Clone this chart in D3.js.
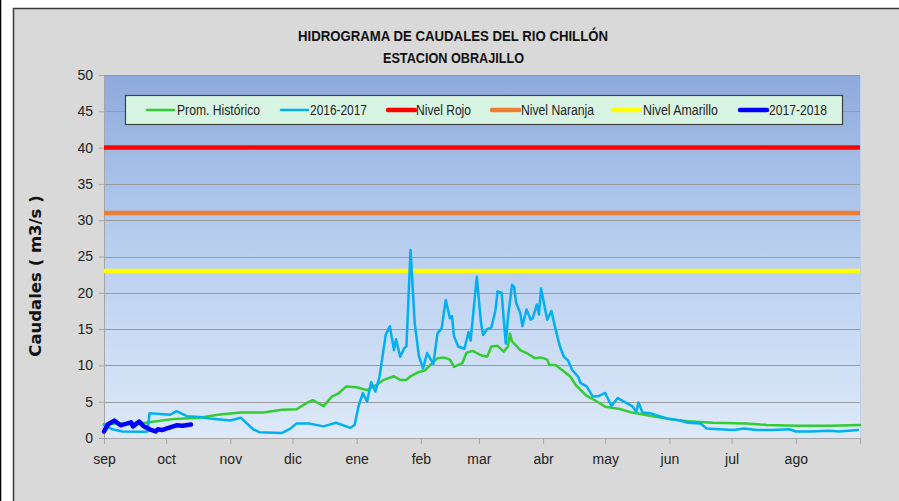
<!DOCTYPE html>
<html><head><meta charset="utf-8">
<script src="https://cdn.jsdelivr.net/npm/d3@7"></script>
<style>
html,body{margin:0;padding:0;background:#fff;}
svg{display:block;}
text{font-family:"Liberation Sans",Arial,sans-serif;}
</style></head>
<body><svg id="c" width="899" height="501"></svg>
<script>
// ---- data ----
const monthLabels = ["sep","oct","nov","dic","ene","feb","mar","abr","may","jun","jul","ago"];
const monthStartDays = [0,30,61,91,122,153,181,212,242,273,303,334,365];
const yTicks = [0,5,10,15,20,25,30,35,40,45,50];

const histDays = [0,8,20,33,46,55,66,77,86,93,96,99,101,106,110,113,117,122,127,132,135,140,143,146,148,152,155,158,161,164,167,169,173,175,178,182,185,187,190,193,195,196,197,201,204,208,211,214,215,218,221,225,228,233,237,242,249,255,265,273,282,294,310,320,335,351,365];
const histValues = [1.9,2.0,2.1,2.6,2.8,3.2,3.5,3.5,3.9,3.95,4.5,5.0,5.2,4.4,5.7,6.1,7.1,7.0,6.6,7.4,8.0,8.5,8.0,8.0,8.5,9.1,9.3,10.2,11.0,11.1,10.8,9.8,10.3,11.75,12.0,11.4,11.2,12.6,12.7,11.9,12.6,14.4,13.3,12.1,11.7,11.0,11.1,10.8,10.05,10.05,9.4,8.5,7.2,5.8,5.2,4.3,4.0,3.5,3.0,2.6,2.3,2.1,2.0,1.8,1.7,1.7,1.8];

const y1617Days = [0,4,9,19,21,22,27,32,35,40,46,51,61,66,72,75,86,90,93,99,106,112,119,121,123,125,127,129,131,133,136,138,140,141,143,145,146,148,150,152,154,156,159,161,163,165,167,168,169,171,174,176,177,180,182,183,185,187,189,190,192,193,194,195,197,198,199,201,202,204,206,207,209,210,211,214,216,218,220,222,224,226,229,230,233,236,239,242,245,248,253,255,257,258,260,264,267,272,278,282,288,291,297,304,309,315,323,331,334,341,350,355,364];
const y1617Values = [1.8,1.2,0.9,0.85,0.9,3.4,3.3,3.2,3.7,3.0,2.9,2.7,2.4,2.8,1.2,0.8,0.7,1.3,2.0,2.0,1.6,2.1,1.4,1.8,4.5,6.2,5.0,7.7,6.4,8.4,14.2,15.4,12.1,13.6,11.2,12.4,12.6,25.9,15.9,11.3,9.6,11.7,10.2,14.4,15.1,19.0,16.5,16.8,14.0,12.6,12.3,14.6,13.4,22.2,15.9,14.2,15.0,15.2,17.6,20.2,20.0,16.3,13.0,16.5,21.1,20.8,18.6,17.2,15.4,17.7,16.3,16.5,18.4,17.0,20.6,16.3,17.5,15.0,12.7,11.2,10.7,9.4,8.4,7.6,7.1,5.7,5.8,6.2,4.4,5.5,4.7,4.4,3.6,4.9,3.5,3.4,3.1,2.7,2.4,2.1,2.0,1.3,1.2,1.1,1.3,1.1,1.1,1.2,0.9,0.9,1.0,0.9,1.1];

const y1718Days = [0,2,5,8,13,14,17,19,22,25,26,28,30,35,38,42];
const y1718Values = [0.9,1.9,2.4,1.75,2.15,1.6,2.25,1.65,1.2,0.9,1.2,1.1,1.3,1.75,1.7,1.85];

const levelNames = ["Nivel Rojo","Nivel Naranja","Nivel Amarillo"];
const levelValues = [40,31,23];
const levelColors = ["#ff0000","#ed7d31","#ffff00"];

// ---- chart ----
const svg = d3.select("#c");
const W = 899, H = 501;
const m = {left:104, right:860, top:75, bottom:438};

svg.append("rect").attr("x",0).attr("y",0).attr("width",W).attr("height",H).attr("fill","#fff");
svg.append("line").attr("x1",0.5).attr("x2",0.5).attr("y1",0).attr("y2",H).attr("stroke","#000").attr("stroke-width",1.5);
svg.append("rect").attr("x",13.5).attr("y",8.5).attr("width",W).attr("height",H)
  .attr("fill","#d9d9d9").attr("stroke","#3a3a3a").attr("stroke-width",1.5);

const defs = svg.append("defs");
const grad = defs.append("linearGradient").attr("id","bg").attr("x1",0).attr("x2",0).attr("y1",0).attr("y2",1);
grad.append("stop").attr("offset","0%").attr("stop-color","#8eaadc");
grad.append("stop").attr("offset","45%").attr("stop-color","#b6cdef");
grad.append("stop").attr("offset","100%").attr("stop-color","#dde9f8");

const x = d3.scaleLinear().domain([0,365]).range([m.left,m.right]);
const y = d3.scaleLinear().domain([0,50]).range([m.bottom,m.top]);

svg.append("rect").attr("x",m.left).attr("y",m.top).attr("width",m.right-m.left).attr("height",m.bottom-m.top).attr("fill","url(#bg)");

// gridlines
svg.append("g").selectAll("line").data(yTicks.filter(d=>d>0)).join("line")
  .attr("x1",m.left).attr("x2",m.right).attr("y1",d=>Math.round(y(d))+0.5).attr("y2",d=>Math.round(y(d))+0.5)
  .attr("stroke","#9a9a9a").attr("stroke-width",1);

// y axis
const yAxis = d3.axisLeft(y).tickValues(yTicks).tickSize(5).tickPadding(6);
const gy = svg.append("g").attr("transform",`translate(${m.left},0)`).call(yAxis);
gy.select(".domain").attr("stroke","#a6a6a6");
gy.selectAll(".tick line").attr("stroke","#a6a6a6");
gy.selectAll(".tick text").attr("font-size",14).attr("fill","#222")
  .style("font-family","'Liberation Sans',Arial,sans-serif");

// x axis
const xAxis = d3.axisBottom(x).tickValues(monthStartDays).tickSize(6).tickPadding(10)
  .tickFormat((d,i)=> monthLabels[i] || "");
const gx = svg.append("g").attr("transform",`translate(0,${m.bottom})`).call(xAxis);
gx.select(".domain").attr("stroke","#a6a6a6");
gx.selectAll(".tick line").attr("stroke","#a6a6a6");
gx.selectAll(".tick text").attr("font-size",14).attr("fill","#222")
  .style("font-family","'Liberation Sans',Arial,sans-serif");

// right border of plot
svg.append("line").attr("x1",m.right+0.5).attr("x2",m.right+0.5).attr("y1",m.top).attr("y2",m.bottom).attr("stroke","#c0d0e8");

// level lines
svg.append("g").selectAll("line").data(levelValues).join("line")
  .attr("x1",m.left).attr("x2",m.right).attr("y1",d=>y(d)).attr("y2",d=>y(d))
  .attr("stroke",(d,i)=>levelColors[i]).attr("stroke-width",4.5);

const line = d3.line().x(d=>x(d[0])).y(d=>y(d[1]));
function drawSeries(days, vals, color, width){
  svg.append("path").datum(days.map((d,i)=>[d,vals[i]]))
    .attr("d",line).attr("fill","none").attr("stroke",color).attr("stroke-width",width)
    .attr("stroke-linejoin","round").attr("stroke-linecap","round");
}
drawSeries(histDays, histValues, "#33cc33", 2.5);
drawSeries(y1617Days, y1617Values, "#00b0f0", 2.5);
drawSeries(y1718Days, y1718Values, "#0000ff", 4.5);

// legend
const lg = svg.append("g");
lg.append("rect").attr("x",125.5).attr("y",95.5).attr("width",717).attr("height",29)
  .attr("fill","#d8f4e2").attr("stroke","#404040").attr("stroke-width",1.2);
const legendItems = [
  {name:"Prom. Histórico", color:"#33cc33", w:2.5, x0:147, tx:177, tl:83},
  {name:"2016-2017", color:"#00b0f0", w:2.5, x0:281, tx:310, tl:57},
  {name:levelNames[0], color:levelColors[0], w:4.5, x0:388, tx:416, tl:55},
  {name:levelNames[1], color:levelColors[1], w:4.5, x0:492, tx:521, tl:73},
  {name:levelNames[2], color:levelColors[2], w:4.5, x0:613, tx:643, tl:75},
  {name:"2017-2018", color:"#0000ff", w:4.5, x0:740, tx:769, tl:58}
];
legendItems.forEach(it=>{
  lg.append("line").attr("x1",it.x0).attr("x2",it.x0+27).attr("y1",110).attr("y2",110)
    .attr("stroke",it.color).attr("stroke-width",it.w).attr("stroke-linecap","round");
  lg.append("text").attr("x",it.tx).attr("y",110).attr("dy","0.35em")
    .attr("font-size",14).attr("fill","#222")
    .attr("textLength",it.tl).attr("lengthAdjust","spacingAndGlyphs").text(it.name);
});

// title
svg.append("text").attr("x",298).attr("y",41)
  .attr("font-size",15).attr("font-weight","bold").attr("fill","#111")
  .attr("textLength",310).attr("lengthAdjust","spacingAndGlyphs")
  .text("HIDROGRAMA DE CAUDALES DEL RIO  CHILLÓN");
svg.append("text").attr("x",383).attr("y",63)
  .attr("font-size",15).attr("font-weight","bold").attr("fill","#111")
  .attr("textLength",141).attr("lengthAdjust","spacingAndGlyphs")
  .text("ESTACION OBRAJILLO");

// y label
svg.append("text").attr("transform","translate(41,276) rotate(-90)").attr("text-anchor","middle")
  .attr("font-size",16.5).attr("font-weight","bold").attr("fill","#111")
  .style("font-family","'DejaVu Sans','Liberation Sans',sans-serif")
  .text("Caudales ( m3/s )");
</script></body></html>
